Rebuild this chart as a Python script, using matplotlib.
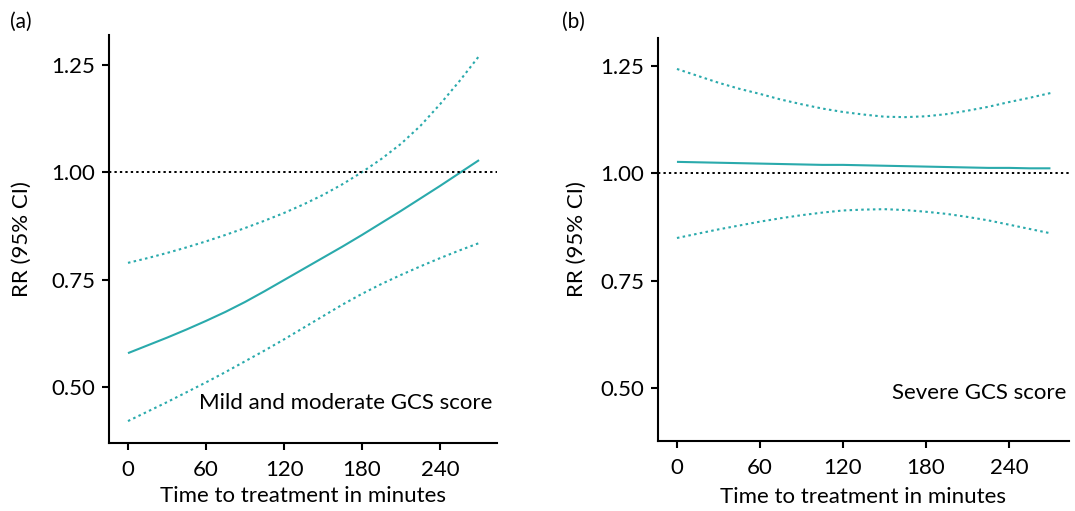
import matplotlib
matplotlib.use("Agg")
import matplotlib.pyplot as plt

plt.rcParams['font.family'] = ['Lato', 'DejaVu Sans']

minutes = [0, 15, 30, 45, 60, 75, 90, 105, 120, 135, 150, 165, 180, 195, 210, 225, 240, 255, 270]

a_rr = [0.579, 0.597, 0.615, 0.634, 0.654, 0.675, 0.698, 0.723, 0.749, 0.775,
        0.801, 0.827, 0.854, 0.882, 0.910, 0.939, 0.968, 0.998, 1.028]
a_upper = [0.789, 0.800, 0.812, 0.825, 0.839, 0.854, 0.870, 0.887, 0.905, 0.925,
           0.947, 0.972, 1.000, 1.031, 1.066, 1.108, 1.158, 1.212, 1.270]
a_lower = [0.421, 0.443, 0.465, 0.488, 0.511, 0.535, 0.560, 0.585, 0.611, 0.638,
           0.665, 0.692, 0.717, 0.740, 0.761, 0.781, 0.800, 0.818, 0.835]

b_rr = [1.026, 1.025, 1.024, 1.023, 1.022, 1.021, 1.020, 1.019, 1.019, 1.018,
        1.017, 1.016, 1.015, 1.014, 1.013, 1.012, 1.012, 1.011, 1.011]
b_upper = [1.242, 1.226, 1.210, 1.196, 1.184, 1.171, 1.160, 1.150, 1.142, 1.136,
           1.131, 1.130, 1.132, 1.137, 1.145, 1.154, 1.165, 1.175, 1.186]
b_lower = [0.849, 0.859, 0.869, 0.878, 0.887, 0.895, 0.902, 0.908, 0.913, 0.915,
           0.916, 0.914, 0.910, 0.905, 0.898, 0.890, 0.880, 0.870, 0.860]

xticks = [0, 60, 120, 180, 240]
yticks = [0.50, 0.75, 1.00, 1.25]
ytick_labels = ['0.50', '0.75', '1.00', '1.25']

teal = '#2AAAAC'
W, H = 1075, 511
fig = plt.figure(figsize=(W / 100, H / 100), dpi=100)

def px_axes(l, r, t, b):
    return fig.add_axes([l / W, 1 - b / H, (r - l) / W, (b - t) / H])

dots = (0, (1.2, 1.6))

panels = [
    dict(rect=(109, 497, 35, 443), rr=a_rr, up=a_upper, lo=a_lower,
         xlim=(-14.6, 283.8), ylim=(0.370, 1.319), label='(a)', lx=10,
         note='Mild and moderate GCS score', nx=492, ny=403, ylx=22, xly=496),
    dict(rect=(658, 1069, 38, 441), rr=b_rr, up=b_upper, lo=b_lower,
         xlim=(-13.7, 283.4), ylim=(0.377, 1.314), label='(b)', lx=562,
         note='Severe GCS score', nx=1066, ny=393, ylx=577, xly=497),
]

for p in panels:
    l, r, t, b = p['rect']
    ax = px_axes(l, r, t, b)
    ax.plot(minutes, p['rr'], color=teal, lw=1.5, solid_capstyle='butt')
    ax.plot(minutes, p['up'], color=teal, lw=1.5, linestyle=dots)
    ax.plot(minutes, p['lo'], color=teal, lw=1.5, linestyle=dots)
    ax.axhline(1.0, color='black', lw=1.4, linestyle=dots)
    ax.set_xlim(*p['xlim'])
    ax.set_ylim(*p['ylim'])
    ax.set_xticks(xticks)
    ax.set_xticklabels([str(v) for v in xticks])
    ax.set_yticks(yticks)
    ax.set_yticklabels(ytick_labels)
    for s in ['top', 'right']:
        ax.spines[s].set_visible(False)
    for s in ['left', 'bottom']:
        ax.spines[s].set_linewidth(1.5)
    ax.tick_params(direction='out', length=5, width=1.5, labelsize=16)
    ax.tick_params(axis='x', pad=7)
    ax.tick_params(axis='y', pad=5)
    ax.set_xlabel('Time to treatment in minutes', fontsize=16)
    ax.set_ylabel('RR (95% CI)', fontsize=16)
    ax.xaxis.label.set_va('center')
    ax.yaxis.label.set_va('center')
    ax.xaxis.set_label_coords(0.5, (b - p['xly']) / (b - t))
    ax.yaxis.set_label_coords((p['ylx'] - l) / (r - l), 0.5)
    ax.text((p['nx'] - l) / (r - l), (b - p['ny']) / (b - t), p['note'],
            transform=ax.transAxes, ha='right', va='center', fontsize=16)
    fig.text(p['lx'] / W, 1 - 22 / H, p['label'], fontsize=15, ha='left', va='center')

fig.savefig('out.png', dpi=100)
